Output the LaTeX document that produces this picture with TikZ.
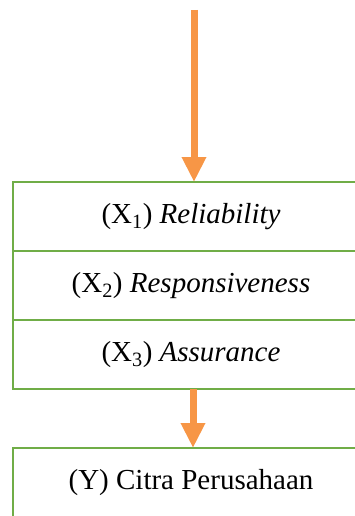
\documentclass[tikz,border=0pt]{standalone}
\usepackage{fontspec}
\setmainfont{Liberation Serif}
\usetikzlibrary{arrows.meta,positioning}
\definecolor{boxgreen}{HTML}{70AD47}
\definecolor{arrorange}{HTML}{F79646}
\begin{document}
\begin{tikzpicture}[x=1pt,y=1pt,
  varbox/.style={draw=boxgreen,line width=2pt,minimum width=356pt,minimum height=69pt,
    inner sep=0pt,outer sep=0pt,font=\fontsize{29}{34}\selectfont},
  flow/.style={arrorange,line width=7pt,-{Triangle[width=23pt,length=25pt]}}]
\clip (0,0) rectangle (355,-516);
\node[varbox] (x1) at (191,-216.5) {(X\textsubscript{1}) \textit{Reliability}};
\node[varbox,below=0pt of x1] (x2) {(X\textsubscript{2}) \textit{Responsiveness}};
\node[varbox,below=0pt of x2] (x3) {(X\textsubscript{3}) \textit{Assurance}};
\node[varbox,below=59pt of x3] (y) {(Y) Citra Perusahaan};
\coordinate (start) at (194,-10);
\draw[flow] (start) -- (start |- x1.north);
\draw[flow] ([xshift=2pt]x3.south) -- ([xshift=2pt]y.north);
\end{tikzpicture}
\end{document}
